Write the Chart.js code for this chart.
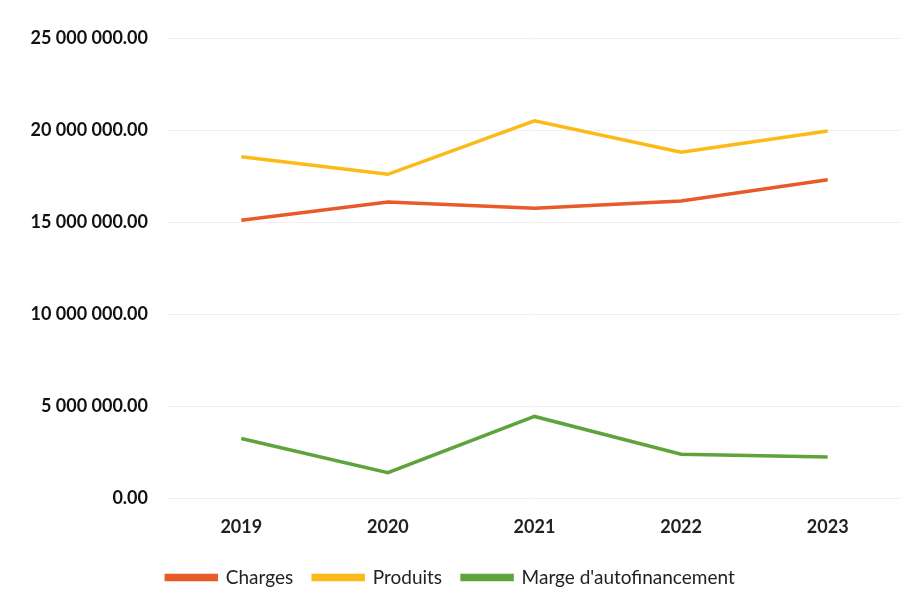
<!DOCTYPE html>
<html>
<head>
<meta charset="utf-8">
<script src="https://cdn.jsdelivr.net/npm/chart.js@4.4.1/dist/chart.umd.min.js"></script>
<style>
  html, body { margin: 0; padding: 0; background: #fff; }
  #wrap { width: 919px; height: 603px; }
</style>
</head>
<body>
<div id="wrap"><canvas id="myChart"></canvas></div>
<script>
const years = ['2019', '2020', '2021', '2022', '2023'];
const charges = [15100000, 16100000, 15750000, 16150000, 17300000];
const produits = [18550000, 17600000, 20500000, 18800000, 19950000];
const marge = [3250000, 1400000, 4450000, 2400000, 2250000];
const yTicks = [0, 5000000, 10000000, 15000000, 20000000, 25000000];

function fmt(v) {
    const s = Math.round(v).toString().replace(/\B(?=(\d{3})+(?!\d))/g, ' ');
    return s + '.00';
}

document.addEventListener('DOMContentLoaded', function() {
    const ctx = document.getElementById('myChart').getContext('2d');

    Chart.defaults.font.family = 'Lato, "Open Sans", sans-serif';
    Chart.defaults.font.size = 18;
    Chart.defaults.font.weight = 'bold';
    Chart.defaults.color = '#1a1a1a';

    new Chart(ctx, {
        type: 'line',
        data: {
            labels: years,
            datasets: [{
                label: 'Charges',
                data: charges,
                borderColor: '#E85A27',
                backgroundColor: '#E85A27',
            }, {
                label: 'Produits',
                data: produits,
                borderColor: '#FBBA18',
                backgroundColor: '#FBBA18',
            }, {
                label: "Marge d'autofinancement",
                data: marge,
                borderColor: '#5FA33C',
                backgroundColor: '#5FA33C',
            }]
        },
        options: {
            responsive: true,
            maintainAspectRatio: false,
            animation: false,
            layout: { padding: { top: 38, right: 18, left: 0, bottom: 6 } },
            elements: {
                point: { radius: 0, hoverRadius: 0 },
                line: { borderWidth: 3.5, tension: 0 }
            },
            scales: {
                x: {
                    offset: true,
                    grid: { display: false },
                    border: { display: false },
                    ticks: { padding: 10, color: '#222' }
                },
                y: {
                    min: 0,
                    max: 25000000,
                    afterBuildTicks: function(axis) {
                        axis.ticks = yTicks.map(v => ({ value: v }));
                    },
                    afterFit: function(axis) { axis.width = 168; },
                    grid: { color: '#f0f0f0', lineWidth: 1, drawTicks: false },
                    border: { display: false },
                    ticks: {
                        padding: 20,
                        color: '#111',
                        callback: function(v) { return fmt(v); }
                    }
                }
            },
            plugins: {
                legend: {
                    position: 'bottom',
                    labels: {
                        boxWidth: 50,
                        boxHeight: 4,
                        padding: 20,
                        color: '#222',
                        font: { size: 19, weight: 'normal' }
                    }
                },
                tooltip: { enabled: false }
            }
        }
    });
});
</script>
</body>
</html>
